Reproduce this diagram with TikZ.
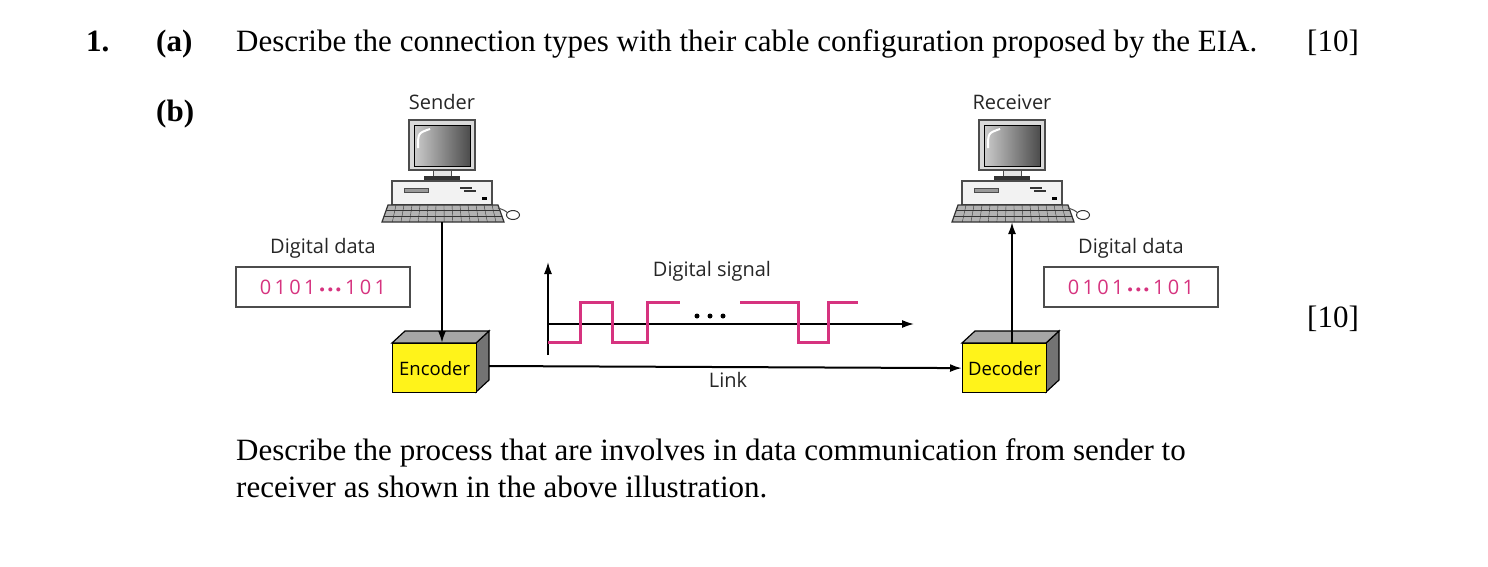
\documentclass[tikz,border=0pt]{standalone}
\usepackage{fontspec}
\usetikzlibrary{arrows.meta}
\setmainfont{Liberation Serif}
\newfontfamily\dsans{Open Sans}
\newcommand{\pdots}{\hspace{4pt}\raisebox{2pt}{\scalebox{0.5}{$\bullet$}}\hspace{3pt}\raisebox{2pt}{\scalebox{0.5}{$\bullet$}}\hspace{3pt}\raisebox{2pt}{\scalebox{0.5}{$\bullet$}}\hspace{4pt}}
\begin{document}
\begin{tikzpicture}[x=1pt,y=-1pt,
  q/.style={font=\fontsize{31}{34}\selectfont,anchor=base west,inner sep=0},
  lab/.style={font=\dsans\fontsize{20}{22}\selectfont,text=black!85},
  pinkc/.style={draw=black!70,line width=1.5pt,minimum width=174pt,minimum height=40pt,font=\dsans\fontsize{20}{22}\selectfont,text=pinkd},
  arr/.style={-{Latex[length=12pt,width=8pt]},line width=2pt},
  computer/.pic={
    \fill[black!15,draw=black!70,line width=1.5pt] (-33,-52) rectangle (33,-2);
    \shade[left color=black!20,right color=black!70,draw=black] (-28,-47) rectangle (28,-6);
    \draw[white,line width=2pt] (-24,-24) .. controls (-24,-39) .. (-12,-43);
    \fill[black!10,draw=black!70] (-9,-2) rectangle (9,6);
    \fill[black!80] (-18,4) rectangle (18,9);
    \fill[black!5,draw=black!70,line width=1.2pt] (-50,9) rectangle (50,33);
    \fill[black!40,draw=black!70] (-38,16) rectangle (-14,20);
    \draw[black!80,line width=1.5pt] (18,16)--(30,16) (22,19)--(34,19);
    \fill[black] (40,25) rectangle (45,28);
    \fill[black!30,draw=black!80,line width=1.2pt] (-54,33)--(56,33)--(62,50)--(-60,50)--cycle;
    \foreach \i in {-46,-38,...,52} \draw[black!80] (\i,33)--(\i*1.08,50);
    \draw[black!80] (-56,38.5)--(58,38.5) (-58,44)--(60,44);
    \draw[black!70,line width=1pt] (56,36) .. controls (62,38) .. (66,41);
    \draw[black!80,line width=1pt,fill=white] (71,43) ellipse (6.5 and 4.5);
  }]
\definecolor{pinkd}{HTML}{D6337F}
\useasboundingbox (0,0) rectangle (1488,566);
% question text
\node[q] (n1) at (86,51) {\textbf{1.}};
\node[q] (na) at (156,51) {\textbf{(a)}};
\node[q] (ta) at (236,51) {Describe the connection types with their cable configuration proposed by the EIA.};
\node[q] (m1) at (1307,51) {[10]};
\node[q] (nb) at (156,121) {\textbf{(b)}};
\node[q] (m2) at (1307,327) {[10]};
\node[q] (t1) at (236,460) {Describe the process that are involves in data communication from sender to};
\node[q] (t2) at (236,497) {receiver as shown in the above illustration.};
% computers
\pic (snd) at (442,172) {computer};
\pic (rcv) at (1012,172) {computer};
\node[lab] (sl) at (442,102) {Sender};
\node[lab] (rl) at (1012,102) {Receiver};
\coordinate (sb) at (442,222);
\coordinate (rb) at (1012,222);
% data boxes
\node[lab] (dl1) at (323,248) {Digital data};
\node[pinkc] (d1) at (323,287) {0\,1\,0\,1\pdots1\,0\,1};
\node[lab] (dl2) at (1131,248) {Digital data};
\node[pinkc] (d2) at (1131,287) {0\,1\,0\,1\pdots1\,0\,1};
% boxes
\foreach \nm/\x/\t in {enc/392/Encoder,dec/962/Decoder}{
  \fill[black!55,draw=black,line width=1.2pt] (\x+84,343)--(\x+97,331)--(\x+97,380)--(\x+84,392)--cycle;
  \fill[black!35,draw=black,line width=1.2pt] (\x,343)--(\x+13,331)--(\x+97,331)--(\x+84,343)--cycle;
  \node[draw=black,line width=1.2pt,fill=yellow!90!white,minimum width=84pt,minimum height=49pt,anchor=north west,inner sep=0,font=\dsans\fontsize{18.5}{22}\selectfont] (\nm) at (\x,343) {\t};
}
\coordinate (encR) at (489,366);
\draw[arr] (sb) -- (sb |- enc.north);
\draw[arr] (rb |- dec.north) -- (rb);
\draw[arr] (encR) -- (dec.west);
\node[lab] (lk) at (728,380) {Link};
% signal
\coordinate (ya) at (548,355);
\coordinate (yt) at (548,262);
\coordinate (xe) at (914,324);
\draw[arr,line width=1.6pt] (ya) -- (yt);
\draw[arr,line width=1.6pt] (548,324) -- (xe);
\node[lab] (sg) at (712,271) {Digital signal};
\draw[pinkd,line width=3pt] (548,342)--(580,342)--(580,302)--(612,302)--(612,342)--(647,342)--(647,302)--(680,302);
\draw[pinkd,line width=3pt] (740,302)--(798,302)--(798,342)--(828,342)--(828,302)--(858,302);
\foreach \x in {697,710,723} \fill (\x,316) circle (2.5);
\end{tikzpicture}
\end{document}
